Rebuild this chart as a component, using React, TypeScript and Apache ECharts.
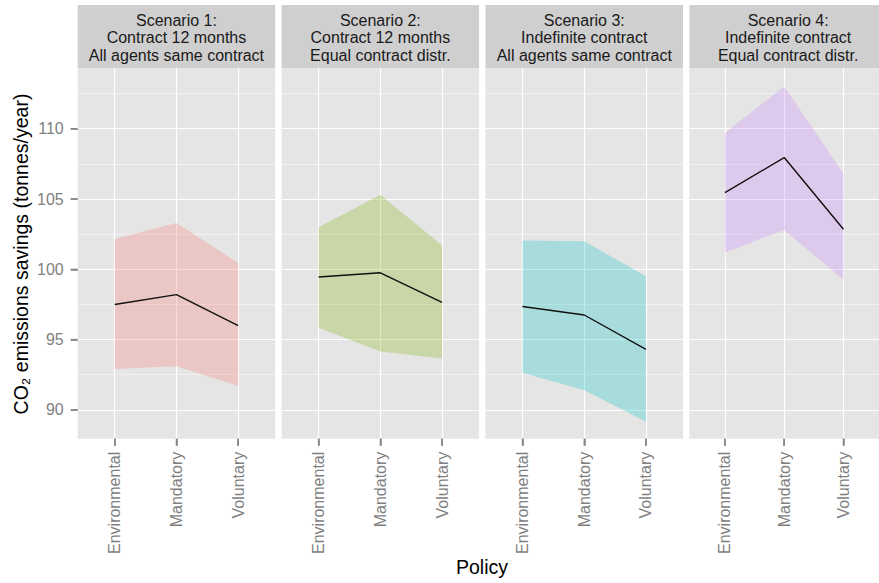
import React, { useEffect, useRef } from 'react';
import * as echarts from 'echarts';

const categories = ['Environmental', 'Mandatory', 'Voluntary'];
const categoryIndex = [0, 1, 2];

const panelTitles = [
  'Scenario 1:\nContract 12 months\nAll agents same contract',
  'Scenario 2:\nContract 12 months\nEqual contract distr.',
  'Scenario 3:\nIndefinite contract\nAll agents same contract',
  'Scenario 4:\nIndefinite contract\nEqual contract distr.',
];

const meanS1 = [97.5, 98.2, 96.0];
const meanS2 = [99.45, 99.75, 97.65];
const meanS3 = [97.35, 96.75, 94.3];
const meanS4 = [105.45, 107.95, 102.85];

const upperS1 = [102.15, 103.3, 100.45];
const upperS2 = [103.0, 105.3, 101.7];
const upperS3 = [102.05, 102.0, 99.5];
const upperS4 = [109.7, 113.0, 106.8];

const lowerS1 = [92.9, 93.1, 91.7];
const lowerS2 = [95.85, 94.15, 93.65];
const lowerS3 = [92.65, 91.4, 89.15];
const lowerS4 = [101.2, 102.8, 99.25];

const yTicks = [90, 95, 100, 105, 110];
const yMinorTicks = [92.5, 97.5, 102.5, 107.5, 112.5];
const yMin = 87.95;
const yMax = 114.32;
const xMin = -0.6;
const xMax = 2.6;

const bandColors = ['#F8766D', '#7CAE00', '#00BFC4', '#C77CFF'];

const means = [meanS1, meanS2, meanS3, meanS4];
const uppers = [upperS1, upperS2, upperS3, upperS4];
const lowers = [lowerS1, lowerS2, lowerS3, lowerS4];

const FONT = "'Liberation Sans', Arial, Helvetica, sans-serif";
const TRANSPARENT = 'rgba(0,0,0,0)';
const TICK_COLOR = '#7F7F7F';

export default function App() {
  const ref = useRef<HTMLDivElement>(null);
  useEffect(() => {
    const chart = echarts.init(ref.current!, null, { renderer: 'svg' });
    const panelLeft = [77.7, 281.6, 485.5, 689.4];
    const panelWidth = 197.5;
    const top = 68;
    const height = 370.7;
    const tickLen = 7;

    const grid = panelLeft.map((l) => ({
      left: l,
      top,
      width: panelWidth,
      height,
      show: true,
      backgroundColor: '#E5E5E5',
      borderWidth: 0,
    }));

    const xAxis = panelLeft.map((_, i) => ({
      type: 'value',
      gridIndex: i,
      min: xMin,
      max: xMax,
      axisLine: { show: true, onZero: false, lineStyle: { color: TRANSPARENT } },
      axisTick: {
        show: true,
        length: tickLen,
        customValues: categoryIndex,
        lineStyle: { color: TICK_COLOR, width: 1.5 },
      },
      axisLabel: {
        customValues: categoryIndex,
        rotate: 90,
        margin: 13,
        hideOverlap: false,
        showMinLabel: true,
        showMaxLabel: true,
        color: '#7F7F7F',
        fontSize: 16,
        fontFamily: FONT,
        formatter: (v: number) => categories[Math.round(v)] ?? '',
      },
      splitLine: { show: true, lineStyle: { color: '#FFFFFF', width: 1.2 } },
    }));

    const majorY = panelLeft.map((_, i) => ({
      type: 'value',
      gridIndex: i,
      min: yMin,
      max: yMax,
      axisLine: { show: true, onZero: false, lineStyle: { color: TRANSPARENT } },
      axisTick: {
        show: i === 0,
        length: tickLen,
        customValues: yTicks,
        lineStyle: { color: TICK_COLOR, width: 1.5 },
      },
      axisLabel: {
        show: i === 0,
        customValues: yTicks,
        margin: 14,
        color: '#7F7F7F',
        fontSize: 16,
        fontFamily: FONT,
      },
      splitLine: { show: true, lineStyle: { color: '#FFFFFF', width: 1.2 } },
    }));

    const minorY = panelLeft.map((_, i) => ({
      type: 'value',
      gridIndex: i,
      min: yMin,
      max: yMax,
      position: 'right',
      axisLine: { show: false, onZero: false },
      axisTick: { show: false, customValues: yMinorTicks },
      axisLabel: { show: false, customValues: yMinorTicks },
      splitLine: { show: true, lineStyle: { color: '#F2F2F2', width: 1 } },
    }));

    const series: any[] = [];
    for (let i = 0; i < 4; i++) {
      const up = uppers[i];
      const lo = lowers[i];
      const color = bandColors[i];
      series.push({
        type: 'custom',
        xAxisIndex: i,
        yAxisIndex: i,
        silent: true,
        clip: true,
        encode: { x: 0, y: [1, 2] },
        data: categoryIndex.map((j) => [j, lo[j], up[j]]),
        renderItem: (params: any, api: any) => {
          if (params.dataIndex !== 0) return null;
          const upperPts = categoryIndex.map((j) => api.coord([j, up[j]]));
          const lowerPts = categoryIndex.map((j) => api.coord([j, lo[j]])).reverse();
          return {
            type: 'polygon',
            shape: { points: [...upperPts, ...lowerPts] },
            style: { fill: color, opacity: 0.27 },
          };
        },
      });
      series.push({
        type: 'line',
        xAxisIndex: i,
        yAxisIndex: i,
        symbol: 'none',
        silent: true,
        z: 3,
        lineStyle: { color: '#111111', width: 1.4 },
        data: categoryIndex.map((j) => [j, means[i][j]]),
      });
      // outward tick marks under each category, placed through the axes' scales
      series.push({
        type: 'scatter',
        xAxisIndex: i,
        yAxisIndex: i,
        silent: true,
        clip: false,
        symbol: 'rect',
        symbolSize: [1.5, tickLen],
        symbolOffset: [0, tickLen / 2],
        itemStyle: { color: TICK_COLOR },
        data: categoryIndex.map((j) => [j, yMin]),
      });
    }
    // outward y tick marks on the first panel
    series.push({
      type: 'scatter',
      xAxisIndex: 0,
      yAxisIndex: 0,
      silent: true,
      clip: false,
      symbol: 'rect',
      symbolSize: [tickLen, 1.5],
      symbolOffset: [-tickLen / 2, 0],
      itemStyle: { color: TICK_COLOR },
      data: yTicks.map((v) => [xMin, v]),
    });

    const graphic: any[] = [];
    panelLeft.forEach((l, i) => {
      graphic.push({
        type: 'rect',
        shape: { x: l, y: 5, width: panelWidth, height: 63 },
        style: { fill: '#CFCFCF' },
        silent: true,
      });
      graphic.push({
        type: 'text',
        x: l + panelWidth / 2,
        y: 37.5,
        silent: true,
        style: {
          text: panelTitles[i],
          fontSize: 16,
          fontFamily: FONT,
          fill: '#1A1A1A',
          lineHeight: 17.5,
          align: 'center',
          verticalAlign: 'middle',
          textAlign: 'center',
          textVerticalAlign: 'middle',
        },
      });
    });
    graphic.push({
      type: 'text',
      x: 482,
      y: 567,
      silent: true,
      style: {
        text: 'Policy',
        fontSize: 19.5,
        fontFamily: FONT,
        fill: '#000000',
        align: 'center',
        verticalAlign: 'middle',
        textAlign: 'center',
        textVerticalAlign: 'middle',
      },
    });
    graphic.push({
      type: 'text',
      x: 20.5,
      y: 254,
      rotation: Math.PI / 2,
      silent: true,
      style: {
        text: 'CO₂ emissions savings (tonnes/year)',
        fontSize: 19.5,
        fontFamily: FONT,
        fill: '#000000',
        align: 'center',
        verticalAlign: 'middle',
        textAlign: 'center',
        textVerticalAlign: 'middle',
      },
    });

    chart.setOption({
      animation: false,
      grid,
      xAxis,
      yAxis: [...majorY, ...minorY],
      series,
      graphic,
    });
    return () => chart.dispose();
  }, []);
  return (
    <div
      ref={ref}
      style={{ position: 'fixed', left: 0, top: 0, width: 879, height: 583, background: '#FFFFFF' }}
    />
  );
}
